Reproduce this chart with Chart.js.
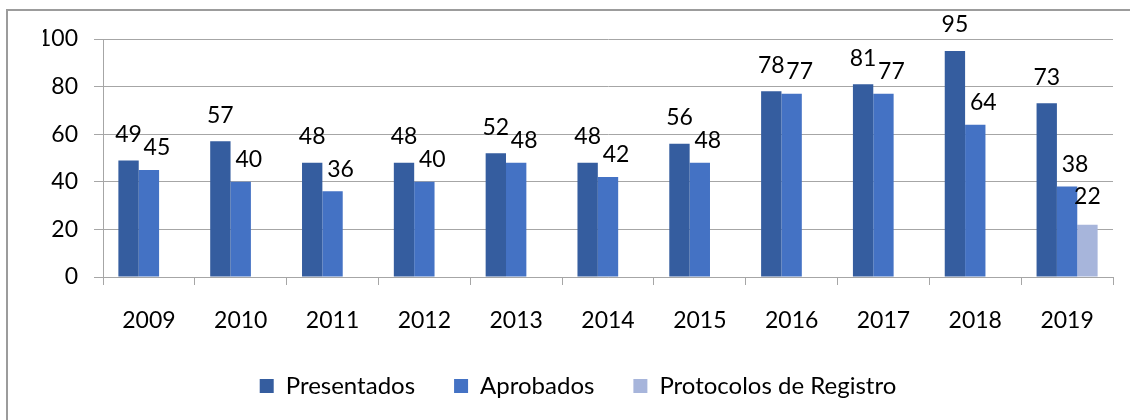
<!DOCTYPE html>
<html>
<head>
<meta charset="utf-8">
<script src="https://cdn.jsdelivr.net/npm/chart.js@4.4.1/dist/chart.umd.min.js"></script>
<style>
  html, body { margin: 0; padding: 0; background: #fff; }
  #wrap { position: relative; width: 1130px; height: 420px; overflow: hidden; }
  #frame { position: absolute; left: 6px; top: 9px; width: 1200px; height: 500px;
           border-left: 2px solid #9c9c9c; border-top: 2px solid #9c9c9c; }
  #chart { position: absolute; left: 0; top: 0; }
</style>
</head>
<body>
<div id="wrap">
  <div id="frame"></div>
  <canvas id="chart" width="1130" height="420"></canvas>
</div>
<script>
const years = ['2009', '2010', '2011', '2012', '2013', '2014', '2015', '2016', '2017', '2018', '2019'];
const presentados = [49, 57, 48, 48, 52, 48, 56, 78, 81, 95, 73];
const aprobados = [45, 40, 36, 40, 48, 42, 48, 77, 77, 64, 38];
const protocolos = [null, null, null, null, null, null, null, null, null, null, 22];
const yTicks = [0, 20, 40, 60, 80, 100];

// label placement per series (Excel had them nudged a bit)
const labelShift = [{ dx: 0, dy: 26 }, { dx: 8, dy: 22 }, { dx: 0, dy: 28 }];

const valueLabels = {
  id: 'valueLabels',
  afterDatasetsDraw(chart) {
    const ctx = chart.ctx;
    ctx.save();
    ctx.font = '23px Lato';
    ctx.fillStyle = '#000';
    ctx.textAlign = 'center';
    ctx.textBaseline = 'middle';
    chart.data.datasets.forEach((ds, i) => {
      const s = labelShift[i];
      chart.getDatasetMeta(i).data.forEach((bar, j) => {
        const v = ds.data[j];
        if (v == null) return;
        ctx.fillText(String(v), bar.x + s.dx, bar.y - s.dy);
      });
    });
    ctx.restore();
  }
};

Chart.defaults.font.family = 'Lato';
Chart.defaults.font.size = 23;
Chart.defaults.color = '#000';

new Chart(document.getElementById('chart'), {
  type: 'bar',
  data: {
    labels: years,
    datasets: [
      { label: 'Presentados', data: presentados, backgroundColor: '#355D9F' },
      { label: 'Aprobados', data: aprobados, backgroundColor: '#4472C4' },
      { label: 'Protocolos de Registro', data: protocolos, backgroundColor: '#A7B5DB' }
    ]
  },
  options: {
    responsive: false,
    animation: false,
    datasets: {
      bar: { categoryPercentage: 0.665, barPercentage: 1, borderWidth: 0 }
    },
    layout: { padding: { left: 43, right: 17, top: 39, bottom: 12 } },
    scales: {
      x: {
        grid: { offset: true, drawOnChartArea: false, tickLength: 8, color: '#A6A6A6' },
        border: { color: '#A6A6A6' },
        ticks: { padding: 22, maxRotation: 0 },
        afterFit: (scale) => { scale.height = 58; }
      },
      y: {
        min: 0,
        max: 100,
        afterBuildTicks: (scale) => { scale.ticks = yTicks.map(v => ({ value: v })); },
        grid: { color: '#A6A6A6', tickLength: 9 },
        border: { color: '#A6A6A6' },
        ticks: { padding: 16 },
        afterFit: (scale) => { scale.width = 60; }
      }
    },
    plugins: {
      legend: {
        position: 'bottom',
        labels: { boxWidth: 14, boxHeight: 14, padding: 39, font: { size: 24 } }
      },
      tooltip: { enabled: false }
    }
  },
  plugins: [valueLabels]
});
</script>
</body>
</html>
